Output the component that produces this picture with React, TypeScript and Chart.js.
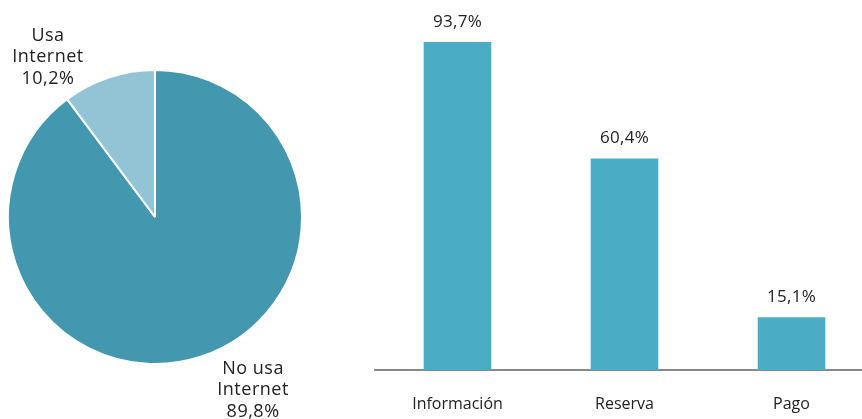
import React, { useEffect, useRef } from "react";
import { Chart, registerables } from "chart.js";

Chart.register(...registerables);

// ---- data ----
const pieCategories: string[][] = [["No usa", "Internet"], ["Usa", "Internet"]];
const pieValues: number[] = [89.8, 10.2];

const barCategories: string[] = ["Información", "Reserva", "Pago"];
const barValues: number[] = [93.7, 60.4, 15.1];

// ---- styles ----
const PIE_COLORS = ["#4398AF", "#93C4D5"];
const BAR_COLOR = "#4BACC6";
const TEXT_COLOR = "#222222";
const FONT = "'Open Sans', 'DejaVu Sans', sans-serif";
// label block centres, expressed in units of the pie's outer radius from its centre
const PIE_LABEL_OFFSETS = [
  { dx: 0.667, dy: 1.177 },
  { dx: -0.728, dy: -1.088 },
];

const fmt = (v: number) => v.toFixed(1).replace(".", ",") + "%";

const pieLabelPlugin = {
  id: "pieLabels",
  afterDraw(chart: any) {
    const ctx = chart.ctx;
    const meta = chart.getDatasetMeta(0);
    ctx.save();
    ctx.font = `18px ${FONT}`;
    try { (ctx as any).letterSpacing = "0.5px"; } catch (e) {}
    ctx.fillStyle = TEXT_COLOR;
    ctx.textAlign = "center";
    ctx.textBaseline = "middle";
    const lh = 21.5;
    meta.data.forEach((arc: any, i: number) => {
      const r = arc.outerRadius;
      const off = PIE_LABEL_OFFSETS[i];
      const cx = arc.x + off.dx * r;
      const cy = arc.y + off.dy * r;
      const lines = [...pieCategories[i], fmt(pieValues[i])];
      const start = cy - ((lines.length - 1) * lh) / 2;
      lines.forEach((t, k) => ctx.fillText(t, cx, start + k * lh));
    });
    ctx.restore();
  },
};

const barLabelPlugin = {
  id: "barLabels",
  afterDatasetsDraw(chart: any) {
    const ctx = chart.ctx;
    const meta = chart.getDatasetMeta(0);
    ctx.save();
    ctx.font = `17px ${FONT}`;
    try { (ctx as any).letterSpacing = "0.3px"; } catch (e) {}
    ctx.fillStyle = TEXT_COLOR;
    ctx.textAlign = "center";
    ctx.textBaseline = "middle";
    meta.data.forEach((bar: any, i: number) => {
      ctx.fillText(fmt(barValues[i]), bar.x, bar.y - 20);
    });
    ctx.restore();
  },
};

export default function App() {
  const pieRef = useRef<HTMLCanvasElement>(null);
  const barRef = useRef<HTMLCanvasElement>(null);

  useEffect(() => {
    const pie = new Chart(pieRef.current!, {
      type: "pie",
      data: {
        labels: pieCategories.map((l) => l.join(" ")),
        datasets: [
          {
            data: pieValues,
            backgroundColor: PIE_COLORS,
            borderColor: "#ffffff",
            borderWidth: 2,
            hoverOffset: 0,
          },
        ],
      },
      options: {
        responsive: false,
        animation: false,
        layout: { padding: { left: 7, right: 7, top: 15, bottom: 0 } },
        plugins: { legend: { display: false }, tooltip: { enabled: false } },
      },
      plugins: [pieLabelPlugin],
    });

    const bar = new Chart(barRef.current!, {
      type: "bar",
      data: {
        labels: barCategories,
        datasets: [
          {
            data: barValues,
            backgroundColor: BAR_COLOR,
            categoryPercentage: 1,
            barPercentage: 0.405,
          },
        ],
      },
      options: {
        responsive: false,
        animation: false,
        layout: { padding: { left: 0, right: 0, top: 20, bottom: 0 } },
        plugins: { legend: { display: false }, tooltip: { enabled: false } },
        scales: {
          y: { display: false, min: 0, max: 100 },
          x: {
            grid: { display: false, drawTicks: false },
            border: { display: true, color: "#888888", width: 2 },
            ticks: {
              color: TEXT_COLOR,
              font: { family: FONT, size: 16 },
              padding: 25,
              maxRotation: 0,
            },
            afterFit: (scale: any) => {
              scale.height = 49;
            },
          },
        },
      },
      plugins: [barLabelPlugin],
    });

    return () => {
      pie.destroy();
      bar.destroy();
    };
  }, []);

  return (
    <div
      style={{
        position: "absolute",
        left: 0,
        top: 0,
        width: 862,
        height: 419,
        overflow: "hidden",
        background: "#ffffff",
      }}
    >
      <canvas
        ref={pieRef}
        width={310}
        height={419}
        style={{ position: "absolute", left: 0, top: 0 }}
      />
      <canvas
        ref={barRef}
        width={501}
        height={419}
        style={{ position: "absolute", left: 374, top: 0 }}
      />
    </div>
  );
}
